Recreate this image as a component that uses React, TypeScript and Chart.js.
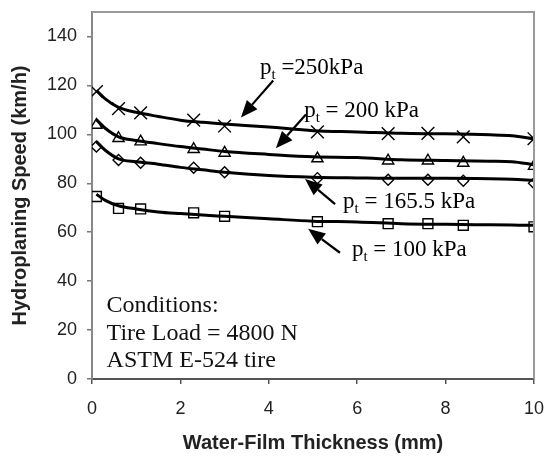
import React, { useEffect, useRef } from 'react';
import { Chart, registerables } from 'chart.js';

Chart.register(...registerables);

// ---- Data ----
const markerX = [0.1, 0.6, 1.1, 2.3, 3.0, 5.1, 6.7, 7.6, 8.4, 10];
const speed250 = [117.5, 110.5, 108.8, 105.8, 103.4, 101, 100.3, 100.4, 99, 98.2];
const speed200 = [103.8, 98.4, 97, 93.9, 92.4, 90.1, 89.2, 89.2, 88.3, 87];
const speed165 = [95, 89.5, 88.4, 86.3, 84.5, 82.1, 81.4, 81.4, 81, 80];
const speed100 = [74.6, 69.7, 69.5, 67.9, 66.5, 64.3, 63.5, 63.5, 62.8, 62.2];

const curveX = [0.1, 0.3, 0.6, 1, 1.5, 2, 2.5, 3, 4, 5, 6, 7, 8, 9, 9.5, 10];
const curve250 = [118, 114.5, 111, 109, 107.3, 105.8, 104.9, 104.2, 103, 101.5, 101, 100.4, 100.2, 99.8, 99.4, 98.2];
const curve200 = [106, 102.5, 99, 97.5, 96.2, 95, 94, 93, 91.8, 90.8, 90.5, 89.6, 89.3, 89, 88.8, 87.6];
const curve165 = [97, 93.5, 90, 88.8, 87.8, 86.5, 85.5, 84.5, 83.2, 82.5, 82.2, 82, 82, 81.8, 81.6, 81.2];
const curve100 = [75.5, 73, 70.8, 69.5, 68.3, 67.6, 67, 66.5, 65.5, 64.5, 64.2, 63.5, 63.2, 63, 62.9, 62.8];

const xTickValues = [0, 2, 4, 6, 8, 10];
const yTickValues = [0, 20, 40, 60, 80, 100, 120, 140];

const seriesNames = ['pt = 250 kPa', 'pt = 200 kPa', 'pt = 165.5 kPa', 'pt = 100 kPa'];
const labelRest = [' =250kPa', ' = 200 kPa', ' = 165.5 kPa', ' = 100 kPa'];
const conditionLines = ['Conditions:', 'Tire Load = 4800 N', 'ASTM E-524 tire'];

const X_TITLE = 'Water-Film Thickness (mm)';
const Y_TITLE = 'Hydroplaning Speed (km/h)';

// Annotation placement (data units): text anchor, arrow tail, arrow tip
const labelPos = [
  { tx: 3.8, ty: 124.8, ax: 4.1, ay: 122.0, bx: 3.37, by: 106.9 },
  { tx: 4.8, ty: 106.9, ax: 4.84, ay: 108.1, bx: 4.16, by: 94.3 },
  { tx: 5.68, ty: 69.9, ax: 5.5, ay: 71.5, bx: 4.82, by: 81.7 },
  { tx: 5.88, ty: 50.4, ax: 5.61, ay: 51.6, bx: 4.89, by: 61.4 },
];
const conditionPos = { x: 0.33, ys: [27.4, 16.1, 5.0] };

const SERIF = '"Liberation Serif", "Times New Roman", serif';
const SANS = '"Liberation Sans", Arial, sans-serif';

const pts = (xs: number[], ys: number[]) => xs.map((x, i) => ({ x, y: ys[i] }));

function drawArrow(ctx: CanvasRenderingContext2D, x1: number, y1: number, x2: number, y2: number) {
  const ang = Math.atan2(y2 - y1, x2 - x1);
  const headLen = 17;
  const headHalf = 7;
  const bx = x2 - headLen * Math.cos(ang);
  const by = y2 - headLen * Math.sin(ang);
  ctx.save();
  ctx.strokeStyle = '#000';
  ctx.fillStyle = '#000';
  ctx.lineWidth = 2.2;
  ctx.beginPath();
  ctx.moveTo(x1, y1);
  ctx.lineTo(bx, by);
  ctx.stroke();
  ctx.beginPath();
  ctx.moveTo(x2, y2);
  ctx.lineTo(bx + headHalf * Math.sin(ang), by - headHalf * Math.cos(ang));
  ctx.lineTo(bx - headHalf * Math.sin(ang), by + headHalf * Math.cos(ang));
  ctx.closePath();
  ctx.fill();
  ctx.restore();
}

const annotationPlugin = {
  id: 'annotations',
  afterDatasetsDraw(chart: any) {
    const { ctx, chartArea, scales } = chart;
    const xs = scales.x;
    const ys = scales.y;
    ctx.save();
    // top & right frame
    ctx.strokeStyle = '#9a9a9a';
    ctx.lineWidth = 2;
    ctx.beginPath();
    ctx.moveTo(chartArea.left, chartArea.top);
    ctx.lineTo(chartArea.right, chartArea.top);
    ctx.lineTo(chartArea.right, chartArea.bottom);
    ctx.stroke();

    // pressure labels with arrows
    ctx.fillStyle = '#000';
    ctx.textBaseline = 'alphabetic';
    ctx.textAlign = 'left';
    labelPos.forEach((p, i) => {
      const x = xs.getPixelForValue(p.tx);
      const y = ys.getPixelForValue(p.ty);
      ctx.font = `23px ${SERIF}`;
      ctx.fillText('p', x, y);
      const wp = ctx.measureText('p').width;
      ctx.font = `15px ${SERIF}`;
      ctx.fillText('t', x + wp, y + 5);
      const wt = ctx.measureText('t').width;
      ctx.font = `23px ${SERIF}`;
      ctx.fillText(labelRest[i], x + wp + wt, y);
      drawArrow(
        ctx,
        xs.getPixelForValue(p.ax),
        ys.getPixelForValue(p.ay),
        xs.getPixelForValue(p.bx),
        ys.getPixelForValue(p.by)
      );
    });

    // conditions block
    ctx.font = `24px ${SERIF}`;
    ctx.fillStyle = '#111';
    conditionLines.forEach((t, i) => {
      ctx.fillText(t, xs.getPixelForValue(conditionPos.x), ys.getPixelForValue(conditionPos.ys[i]));
    });
    ctx.restore();
  },
};

const zeroPad = (s: any) => {
  s.paddingTop = 0;
  s.paddingBottom = 0;
  s.paddingLeft = 0;
  s.paddingRight = 0;
};

export default function App() {
  const ref = useRef<HTMLCanvasElement | null>(null);

  useEffect(() => {
    if (!ref.current) return;
    const lineDs = (label: string, ys: number[]) => ({
      type: 'scatter' as const,
      label,
      data: pts(curveX, ys),
      showLine: true,
      borderColor: '#000',
      borderWidth: 3,
      pointRadius: 0,
      tension: 0.4,
      cubicInterpolationMode: 'monotone' as const,
      fill: false,
    });
    const markDs = (label: string, ys: number[], style: string, r: number) => ({
      type: 'scatter' as const,
      label,
      data: pts(markerX, ys),
      showLine: false,
      pointStyle: style,
      pointRadius: r,
      pointBorderColor: '#000',
      pointBackgroundColor: 'rgba(0,0,0,0)',
      pointBorderWidth: 1.4,
    });

    const chart = new Chart(ref.current, {
      type: 'scatter',
      data: {
        datasets: [
          lineDs(seriesNames[0] + ' fit', curve250),
          lineDs(seriesNames[1] + ' fit', curve200),
          lineDs(seriesNames[2] + ' fit', curve165),
          lineDs(seriesNames[3] + ' fit', curve100),
          markDs(seriesNames[0], speed250, 'crossRot', 9),
          markDs(seriesNames[1], speed200, 'triangle', 6.5),
          markDs(seriesNames[2], speed165, 'rectRot', 5.5),
          markDs(seriesNames[3], speed100, 'rect', 7),
        ] as any,
      },
      options: {
        responsive: false,
        animation: false,
        devicePixelRatio: 1,
        layout: { padding: { top: 12, right: 13, left: 0, bottom: 0 } },
        plugins: {
          legend: { display: false },
          tooltip: { enabled: false },
        },
        scales: {
          x: {
            type: 'linear',
            min: 0,
            max: 10,
            afterBuildTicks: (s: any) => {
              s.ticks = xTickValues.map((v) => ({ value: v }));
            },
            afterFit: (s: any) => {
              s.height = 82;
              zeroPad(s);
            },
            ticks: {
              font: { family: SANS, size: 18 },
              color: '#222',
              padding: 14,
              maxRotation: 0,
            },
            grid: {
              display: true,
              drawOnChartArea: false,
              drawTicks: true,
              tickLength: 5,
              color: '#555',
              lineWidth: 1.5,
            },
            border: { display: true, color: '#555', width: 2 },
            title: {
              display: true,
              text: X_TITLE,
              font: { family: SANS, size: 20, weight: 'bold' },
              color: '#222',
              padding: { top: 6, bottom: 6 },
            },
          },
          y: {
            type: 'linear',
            min: 0,
            max: 150,
            afterBuildTicks: (s: any) => {
              s.ticks = yTickValues.map((v) => ({ value: v }));
            },
            afterFit: (s: any) => {
              s.width = 92;
              zeroPad(s);
            },
            ticks: {
              font: { family: SANS, size: 18 },
              color: '#222',
              padding: 10,
            },
            grid: {
              display: true,
              drawOnChartArea: false,
              drawTicks: true,
              tickLength: 5,
              color: '#777',
              lineWidth: 1.5,
            },
            border: { display: true, color: '#888', width: 2 },
            title: {
              display: true,
              text: Y_TITLE,
              font: { family: SANS, size: 20, weight: 'bold' },
              color: '#222',
              padding: { top: 8, bottom: 8 },
            },
          },
        },
      } as any,
      plugins: [annotationPlugin],
    });
    return () => chart.destroy();
  }, []);

  return (
    <div style={{ position: 'fixed', left: 0, top: 0, width: 547, height: 461, background: '#fff' }}>
      <canvas ref={ref} width={547} height={461} style={{ display: 'block' }} />
    </div>
  );
}
